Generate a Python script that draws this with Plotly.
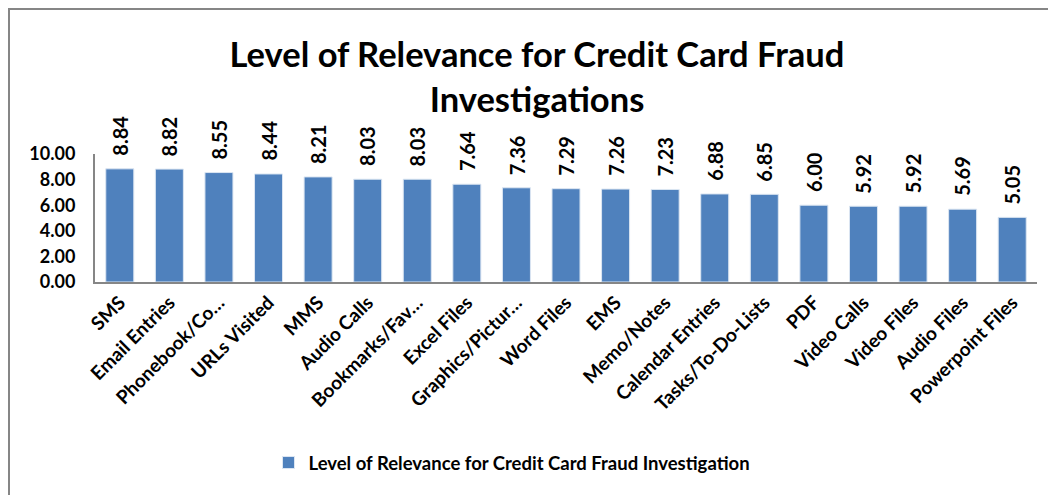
import plotly.graph_objects as go

categories = ["SMS", "Email Entries", "Phonebook/Co…", "URLs Visited", "MMS", "Audio Calls",
              "Bookmarks/Fav…", "Excel Files", "Graphics/Pictur…", "Word Files", "EMS",
              "Memo/Notes", "Calendar Entries", "Tasks/To-Do-Lists", "PDF", "Video Calls",
              "Video Files", "Audio Files", "Powerpoint Files"]
values = [8.84, 8.82, 8.55, 8.44, 8.21, 8.03, 8.03, 7.64, 7.36, 7.29, 7.26, 7.23,
          6.88, 6.85, 6.00, 5.92, 5.92, 5.69, 5.05]
y_ticks = [0, 2, 4, 6, 8, 10]
series_name = "Level of Relevance for Credit Card Fraud Investigation"
title_text = "Level of Relevance for Credit Card Fraud<br>Investigations"

W, H = 1048, 495
L, R, T, B = 95, 11, 154, 213
pw, ph = W - L - R, H - T - B

FONT = "Lato"
BAR = "#4F81BD"
GRAY = "#868686"

fig = go.Figure()
fig.add_trace(go.Bar(
    x=categories, y=values, name=series_name,
    marker=dict(color=BAR, line=dict(color="#DCE6F2", width=1)),
    showlegend=True,
))

annotations = []
for c, v in zip(categories, values):
    annotations.append(dict(
        x=c, y=v, xref="x", yref="y", text=f"{v:.2f}", showarrow=False,
        textangle=-90, yanchor="bottom", xanchor="center", yshift=11,
        font=dict(family=FONT, size=20, color="black", weight="bold"),
    ))

def px_to_paper_x(px):
    return (px - L) / pw

def px_to_paper_y(py):
    return (H - B - py) / ph

fig.update_layout(
    width=W, height=H,
    margin=dict(l=L, r=R, t=T, b=B, autoexpand=False),
    paper_bgcolor="white", plot_bgcolor="white",
    title=dict(text=title_text, x=537 / W, xref="container", xanchor="center",
               y=1 - 67 / H, yanchor="middle",
               font=dict(family=FONT, size=34.5, color="black", weight="bold")),
    bargap=0.435,
    xaxis=dict(showline=True, linecolor=GRAY, linewidth=2, tickangle=-45,
               tickfont=dict(family=FONT, size=19, color="black", weight="bold"),
               showgrid=False, ticks="", fixedrange=True),
    yaxis=dict(range=[0, 10], tickvals=y_ticks, tickformat=".2f",
               showline=True, linecolor=GRAY, linewidth=2, showgrid=False,
               ticks="", ticklabelstandoff=14, zeroline=False, fixedrange=True,
               tickfont=dict(family=FONT, size=18, color="black", weight="bold")),
    legend=dict(orientation="h", x=px_to_paper_x(512), xanchor="center",
                y=px_to_paper_y(463), yanchor="middle",
                font=dict(family=FONT, size=18.5, color="black", weight="bold")),
    annotations=annotations,
    shapes=[dict(type="rect", xref="paper", yref="paper",
                 x0=px_to_paper_x(9), x1=px_to_paper_x(W + 20),
                 y0=px_to_paper_y(H + 20), y1=px_to_paper_y(9),
                 line=dict(color=GRAY, width=2), fillcolor="rgba(0,0,0,0)", layer="below")],
)

fig.write_html("out.html", config={"displayModeBar": False},
               post_script="document.body.style.margin='0';document.body.style.overflow='hidden';")
